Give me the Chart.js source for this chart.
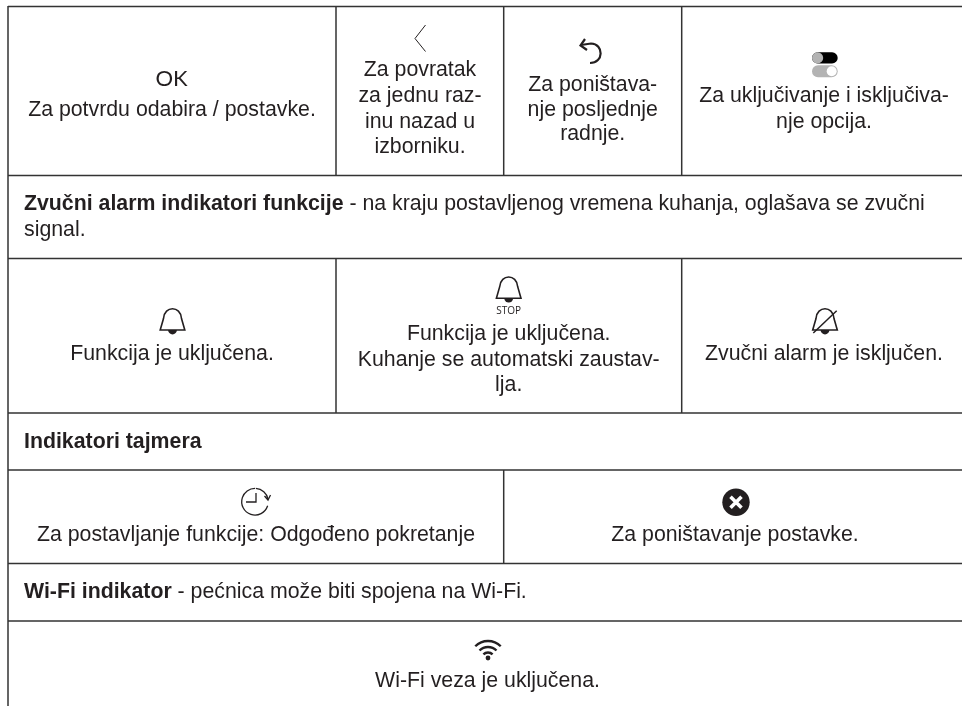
<!DOCTYPE html>
<html lang="hr">
<head>
    <meta charset="UTF-8">
    <title>Indikatori</title>
    <script src="https://cdn.jsdelivr.net/npm/chart.js"></script>
    <style>
        body { margin: 0; background: #fff; }
        canvas { display: block; }
    </style>
</head>
<body>
    <canvas id="panel" width="962" height="706"></canvas>

    <script>
        // table rules, in picture units
        const rowRuleY = [6.5, 175.5, 258.5, 413, 470, 563.5, 621];
        const colRuleX = [336, 503.7, 681.7, 336, 681.7, 503.7];
        const colRuleTop = [6.5, 6.5, 6.5, 258.5, 258.5, 470];
        const colRuleBottom = [175.5, 175.5, 175.5, 413, 413, 563.5];

        // centred cell lines
        const cellLines = [
            'Za potvrdu odabira / postavke.',
            'Za povratak', 'za jednu raz-', 'inu nazad u', 'izborniku.',
            'Za poništava-', 'nje posljednje', 'radnje.',
            'Za uključivanje i isključiva-', 'nje opcija.',
            'Funkcija je uključena.',
            'Funkcija je uključena.', 'Kuhanje se automatski zaustav-', 'lja.',
            'Zvučni alarm je isključen.',
            'Za postavljanje funkcije: Odgođeno pokretanje',
            'Za poništavanje postavke.',
            'Wi-Fi veza je uključena.'
        ];
        const cellLineX = [172, 420, 420, 420, 420, 592.7, 592.7, 592.7, 824, 824, 172, 508.7, 508.7, 508.7, 824, 256, 735, 487.5];
        const cellLineY = [115.7, 76, 102, 128, 153, 90.5, 115.5, 140, 102, 127.5, 360, 340, 365.5, 391, 360, 540.7, 540.7, 686.7];

        // full width rows: bold part, then plain part
        const noteBold = ['Zvučni alarm indikatori funkcije', 'Indikatori tajmera', 'Wi-Fi indikator'];
        const notePlain = [' - na kraju postavljenog vremena kuhanja, oglašava se zvučni', '', ' - pećnica može biti spojena na Wi-Fi.'];
        const noteY = [210, 448, 598];
        const noteWrap = 'signal.';

        const ink = '#231f20';
        const textFont = '"Liberation Sans", Arial, sans-serif';
        const textSize = '21.3px ';

        const ruleData = [];
        rowRuleY.forEach(y => ruleData.push({ x: 8, y: y }, { x: 962, y: y }, { x: null, y: null }));
        colRuleX.forEach((x, i) => ruleData.push({ x: x, y: colRuleTop[i] }, { x: x, y: colRuleBottom[i] }, { x: null, y: null }));
        ruleData.push({ x: 8, y: 6 }, { x: 8, y: 706 });

        function bell(ctx, px, py, cx, top) {
            const x = v => px(cx + v);
            const y = v => py(top + v);
            ctx.lineWidth = 1.6;
            ctx.beginPath();
            ctx.moveTo(x(-12.3), y(21.5));
            ctx.lineTo(x(-9), y(10));
            ctx.bezierCurveTo(x(-8), y(-3), x(8), y(-3), x(9), y(10));
            ctx.lineTo(x(12.3), y(21.5));
            ctx.closePath();
            ctx.stroke();
            ctx.beginPath();
            ctx.arc(x(0), y(21.5), 4.4, 0, Math.PI);
            ctx.fill();
        }

        const panelPlugin = {
            id: 'panel',
            afterDatasetsDraw(chart) {
                const ctx = chart.ctx;
                const px = v => chart.scales.x.getPixelForValue(v);
                const py = v => chart.scales.y.getPixelForValue(v);
                ctx.save();
                ctx.fillStyle = ink;
                ctx.strokeStyle = ink;
                ctx.textBaseline = 'alphabetic';

                // cell text
                ctx.font = textSize + textFont;
                ctx.textAlign = 'center';
                cellLines.forEach((t, i) => ctx.fillText(t, px(cellLineX[i]), py(cellLineY[i])));

                // full width rows
                ctx.textAlign = 'left';
                noteBold.forEach((t, i) => {
                    ctx.font = 'bold ' + textSize + textFont;
                    ctx.fillText(t, px(24), py(noteY[i]));
                    const w = ctx.measureText(t).width;
                    ctx.font = textSize + textFont;
                    ctx.fillText(notePlain[i], px(24) + w, py(noteY[i]));
                });
                ctx.fillText(noteWrap, px(24), py(235.5));

                // OK key
                ctx.textAlign = 'center';
                ctx.font = '22px Lato, sans-serif';
                ctx.fillText('OK', px(171.5), py(85.5));

                // back chevron
                ctx.lineWidth = 1;
                ctx.beginPath();
                ctx.moveTo(px(425.5), py(25));
                ctx.lineTo(px(415), py(38.5));
                ctx.lineTo(px(425.5), py(51.5));
                ctx.stroke();

                // undo arrow
                ctx.lineWidth = 2.2;
                ctx.beginPath();
                ctx.moveTo(px(581), py(45));
                ctx.lineTo(px(591), py(43.5));
                ctx.bezierCurveTo(px(604), py(44), px(604), py(63), px(590), py(63));
                ctx.stroke();
                ctx.beginPath();
                ctx.moveTo(px(585), py(39));
                ctx.lineTo(px(580.5), py(45.5));
                ctx.lineTo(px(587), py(50));
                ctx.stroke();

                // toggle pair
                ctx.fillStyle = '#000';
                ctx.beginPath();
                ctx.roundRect(px(812), py(52.3), 25.7, 11.2, 5.6);
                ctx.fill();
                ctx.fillStyle = '#b3b3b3';
                ctx.beginPath();
                ctx.arc(px(817.6), py(57.9), 5.6, 0, Math.PI * 2);
                ctx.fill();
                ctx.beginPath();
                ctx.roundRect(px(812), py(65.3), 25.7, 12, 6);
                ctx.fill();
                ctx.fillStyle = '#fff';
                ctx.beginPath();
                ctx.arc(px(831.7), py(71.3), 5, 0, Math.PI * 2);
                ctx.fill();

                // bells
                ctx.fillStyle = ink;
                bell(ctx, px, py, 172.5, 308.5);
                bell(ctx, px, py, 508.7, 276.7);
                bell(ctx, px, py, 825, 308.5);
                ctx.lineWidth = 1.5;
                ctx.beginPath();
                ctx.moveTo(px(813.3), py(333));
                ctx.lineTo(px(836.7), py(310.7));
                ctx.stroke();
                ctx.font = '10px "Open Sans", sans-serif';
                ctx.fillText('STOP', px(508.7), py(314));

                // delay clock
                ctx.lineWidth = 1.3;
                ctx.beginPath();
                ctx.arc(px(255), py(501.7), 13.3, 0.1 * Math.PI, -0.5 * Math.PI);
                ctx.stroke();
                ctx.beginPath();
                ctx.arc(px(255), py(501.7), 13.3, -0.48 * Math.PI, -0.06 * Math.PI);
                ctx.stroke();
                ctx.beginPath();
                ctx.moveTo(px(264.5), py(496));
                ctx.lineTo(px(268), py(500));
                ctx.lineTo(px(270.5), py(495));
                ctx.stroke();
                ctx.beginPath();
                ctx.moveTo(px(256), py(493));
                ctx.lineTo(px(256), py(502));
                ctx.lineTo(px(246), py(502));
                ctx.stroke();

                // cancel disc
                ctx.beginPath();
                ctx.arc(px(736), py(502.3), 13.7, 0, Math.PI * 2);
                ctx.fill();
                ctx.strokeStyle = '#fff';
                ctx.lineWidth = 3.6;
                ctx.beginPath();
                ctx.moveTo(px(730.5), py(496.8));
                ctx.lineTo(px(741.5), py(507.8));
                ctx.moveTo(px(741.5), py(496.8));
                ctx.lineTo(px(730.5), py(507.8));
                ctx.stroke();

                // wifi
                ctx.strokeStyle = ink;
                ctx.lineWidth = 2.4;
                [18, 12, 6.5].forEach(r => {
                    ctx.beginPath();
                    ctx.arc(px(488), py(659), r, -0.75 * Math.PI, -0.25 * Math.PI);
                    ctx.stroke();
                });
                ctx.beginPath();
                ctx.arc(px(488), py(658), 2.4, 0, Math.PI * 2);
                ctx.fill();
                ctx.restore();
            }
        };

        new Chart(document.getElementById('panel'), {
            type: 'scatter',
            data: {
                datasets: [{
                    data: ruleData,
                    showLine: true,
                    spanGaps: false,
                    borderColor: '#333333',
                    borderWidth: 1.5,
                    pointRadius: 0,
                    clip: false
                }]
            },
            options: {
                responsive: false,
                animation: false,
                layout: { padding: 0 },
                plugins: { legend: { display: false }, tooltip: { enabled: false } },
                scales: {
                    x: { type: 'linear', min: 0, max: 962, display: false },
                    y: { type: 'linear', min: 0, max: 706, reverse: true, display: false }
                }
            },
            plugins: [panelPlugin]
        });
    </script>
</body>
</html>
